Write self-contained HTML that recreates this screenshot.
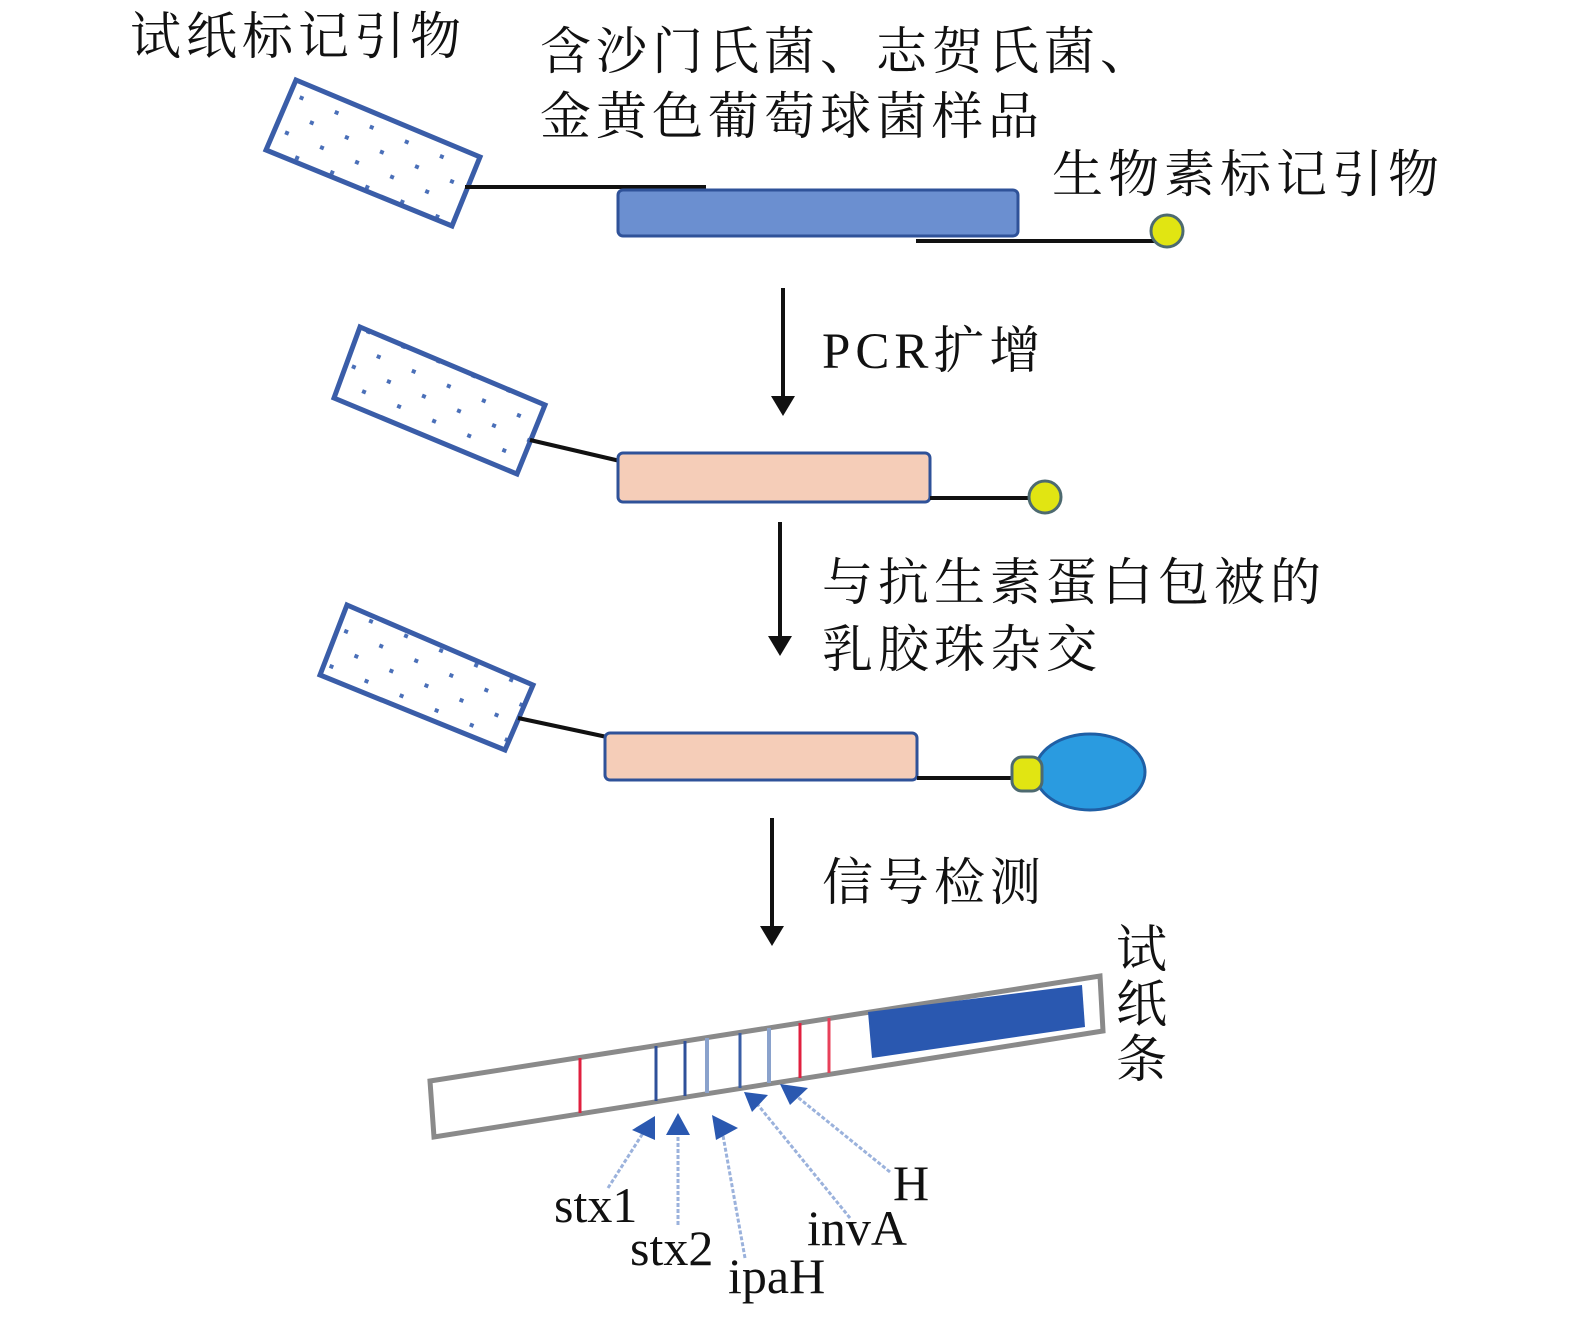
<!DOCTYPE html>
<html><head><meta charset="utf-8"><style>
html,body{margin:0;padding:0;background:#fff;}
svg{display:block;}
.cn{font-family:"Liberation Serif","Noto Serif CJK SC",serif;font-size:51px;fill:#111;letter-spacing:5px;}
.lb{font-family:"Liberation Serif",serif;font-size:50px;fill:#111;}
</style></head><body>
<svg width="1575" height="1325" viewBox="0 0 1575 1325" xmlns="http://www.w3.org/2000/svg">
<defs>
<pattern id="dots" width="38" height="38" patternUnits="userSpaceOnUse" patternTransform="rotate(22.7)">
<rect x="10" y="10" width="4" height="4" fill="#4a6fb8"/>
<rect x="29" y="29" width="4" height="4" fill="#4a6fb8"/>
</pattern>
</defs>

<text class="cn" x="130" y="54">试纸标记引物</text>
<text class="cn" x="540" y="69">含沙门氏菌、志贺氏菌、</text>
<text class="cn" x="540" y="134">金黄色葡萄球菌样品</text>
<text class="cn" x="1052" y="192">生物素标记引物</text>
<text class="cn" x="822" y="368"><tspan font-family="Liberation Serif">PCR</tspan>扩增</text>
<text class="cn" x="822" y="600">与抗生素蛋白包被的</text>
<text class="cn" x="822" y="667">乳胶珠杂交</text>
<text class="cn" x="822" y="900">信号检测</text>
<text class="cn" x="1116" y="967">试</text>
<text class="cn" x="1116" y="1022">纸</text>
<text class="cn" x="1116" y="1077">条</text>

<polygon points="296,80 480,157 452,226 266,150" fill="url(#dots)" stroke="#3a5da8" stroke-width="5"/>
<line x1="465" y1="187" x2="706" y2="187" stroke="#111" stroke-width="4"/>
<rect x="618" y="190" width="400" height="46" rx="5" fill="#6b8fd0" stroke="#2f5299" stroke-width="3"/>
<line x1="916" y1="241" x2="1160" y2="241" stroke="#111" stroke-width="4"/>
<circle cx="1167" cy="231" r="16" fill="#e1e512" stroke="#4d6a70" stroke-width="3"/>

<line x1="783" y1="288" x2="783" y2="400" stroke="#111" stroke-width="4"/>
<polygon points="771,396 795,396 783,416" fill="#111"/>

<polygon points="360,327 545,405 517,474 334,398" fill="url(#dots)" stroke="#3a5da8" stroke-width="5"/>
<line x1="530" y1="440" x2="620" y2="461" stroke="#111" stroke-width="4"/>
<rect x="618" y="453" width="312" height="49" rx="5" fill="#f5cdb8" stroke="#2f5299" stroke-width="3"/>
<line x1="930" y1="498" x2="1035" y2="498" stroke="#111" stroke-width="4"/>
<circle cx="1045" cy="497" r="16" fill="#e1e512" stroke="#4d6a70" stroke-width="3"/>

<line x1="780" y1="522" x2="780" y2="640" stroke="#111" stroke-width="4"/>
<polygon points="768,636 792,636 780,656" fill="#111"/>

<polygon points="347,605 533,685 505,750 320,675" fill="url(#dots)" stroke="#3a5da8" stroke-width="5"/>
<line x1="518" y1="718" x2="607" y2="737" stroke="#111" stroke-width="4"/>
<rect x="605" y="733" width="312" height="47" rx="5" fill="#f5cdb8" stroke="#2f5299" stroke-width="3"/>
<line x1="917" y1="778" x2="1015" y2="778" stroke="#111" stroke-width="4"/>
<ellipse cx="1090" cy="772" rx="55" ry="38" fill="#2a9be0" stroke="#1f5fa5" stroke-width="3"/>
<rect x="1012" y="757" width="30" height="34" rx="10" fill="#e1e512" stroke="#4d6a70" stroke-width="3"/>

<line x1="772" y1="818" x2="772" y2="930" stroke="#111" stroke-width="4"/>
<polygon points="760,926 784,926 772,946" fill="#111"/>

<polygon points="430,1081 1100,976 1103,1031 434,1137" fill="#fff" stroke="#8a8a8a" stroke-width="5"/>
<polygon points="868,1012 1082,985 1085,1027 872,1058" fill="#2a58b0"/>
<g stroke-width="3">
<line x1="580" y1="1058" x2="580" y2="1113" stroke="#e0203f"/>
<line x1="656" y1="1046" x2="656" y2="1101" stroke="#2f509a"/>
<line x1="685" y1="1041" x2="685" y2="1096" stroke="#2f509a"/>
<line x1="707" y1="1038" x2="707" y2="1093" stroke="#8aa2cc" stroke-width="4"/>
<line x1="740" y1="1033" x2="740" y2="1088" stroke="#3a5ea5"/>
<line x1="769" y1="1028" x2="769" y2="1083" stroke="#8aa2cc" stroke-width="4"/>
<line x1="800" y1="1023" x2="800" y2="1078" stroke="#e0203f"/>
<line x1="829" y1="1018" x2="829" y2="1073" stroke="#e8405a"/>
</g>

<g stroke="#9bb2dc" stroke-width="3" stroke-dasharray="4,2" fill="none">
<line x1="608" y1="1188" x2="645" y2="1130"/>
<line x1="678" y1="1225" x2="678" y2="1130"/>
<line x1="745" y1="1258" x2="722" y2="1130"/>
<line x1="850" y1="1218" x2="758" y2="1105"/>
<line x1="890" y1="1172" x2="795" y2="1095"/>
</g>
<g fill="#2a58b0">
<polygon points="632,1130 655,1116 655,1140"/>
<polygon points="666,1135 678,1113 690,1135"/>
<polygon points="712,1115 738,1128 716,1140"/>
<polygon points="744,1092 768,1095 752,1112"/>
<polygon points="780,1084 808,1088 790,1105"/>
</g>
<text class="lb" x="554" y="1222">stx1</text>
<text class="lb" x="630" y="1265">stx2</text>
<text class="lb" x="728" y="1293">ipaH</text>
<text class="lb" x="807" y="1245">invA</text>
<text class="lb" x="893" y="1200">H</text>
</svg>
</body></html>
